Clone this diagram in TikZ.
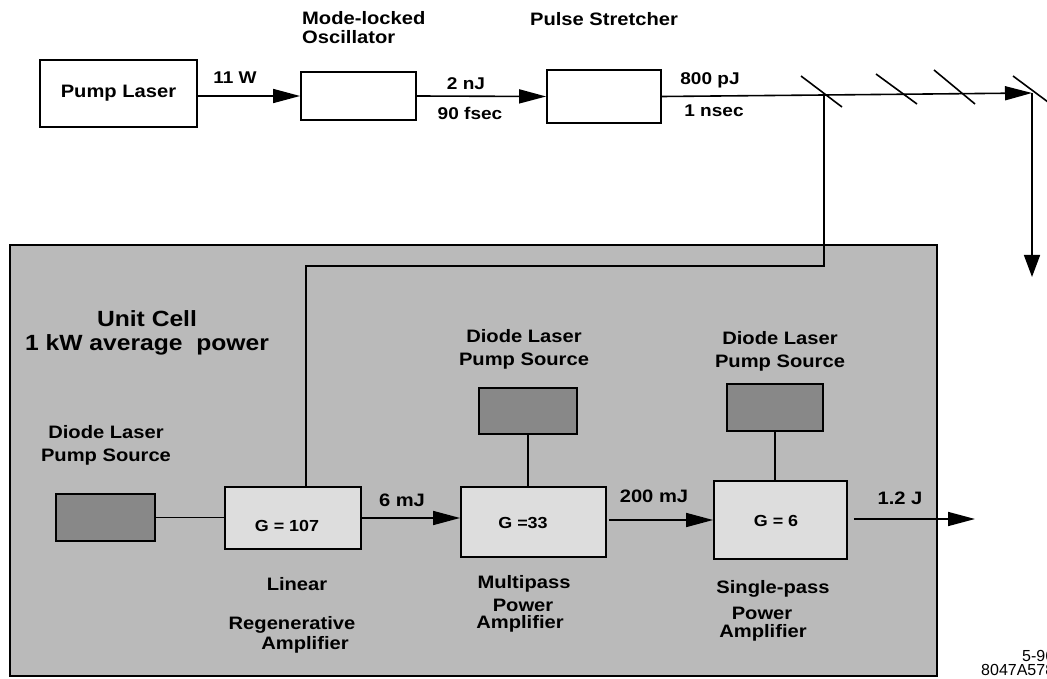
\documentclass[tikz,border=0pt]{standalone}
\usepackage{fontspec}
\setmainfont{Liberation Sans}
\newfontfamily\hb{Liberation Sans}[FakeStretch=1.12]
\usetikzlibrary{arrows.meta}
\definecolor{cellgray}{HTML}{BABABA}
\definecolor{diodegray}{HTML}{888888}
\definecolor{ampgray}{HTML}{DDDDDD}
\begin{document}
\begin{tikzpicture}[x=1pt,y=-1pt,
  box/.style={draw, line width=1.8pt, inner sep=0pt},
  diode/.style={box, fill=diodegray},
  amp/.style={box, fill=ampgray},
  conn/.style={line width=1.6pt},
  arr/.style={conn, -{Triangle[length=27pt,width=14pt]}},
  arrdown/.style={conn, -{Triangle[length=22pt,width=16pt]}},
  mirror/.style={line width=1.6pt},
  lbl/.style={inner sep=0pt, align=center, font=\hb\bfseries\fontsize{18}{21}\selectfont},
  tlbl/.style={inner sep=0pt, align=center, font=\hb\bfseries\fontsize{17}{20}\selectfont},
  glbl/.style={inner sep=0pt, align=center, font=\hb\bfseries\fontsize{16}{19}\selectfont},
  biglbl/.style={inner sep=0pt, align=center, font=\hb\bfseries\fontsize{22}{25}\selectfont},
  code/.style={inner sep=0pt, align=right, font=\fontsize{16}{17}\selectfont}
]
\useasboundingbox (0,0) rectangle (1047,679);

% unit cell background
\draw[line width=1.8pt, fill=cellgray] (10,245) rectangle (937,676);

% top chain
\node[box, minimum width=157pt, minimum height=67pt, lbl] (pl) at (118.5,93.5) {Pump Laser};
\node[box, minimum width=115pt, minimum height=48pt] (mlo) at (358.5,96) {};
\node[box, minimum width=114pt, minimum height=53pt] (ps) at (604,96.5) {};

\node[lbl, anchor=west, align=left] (mlotxt) at (302,28) {Mode-locked\\[-2pt]Oscillator};
\node[lbl] (pstxt) at (604,19) {Pulse Stretcher};

\draw[arr] (pl.east |- mlo.west) -- (mlo.west);
\node[tlbl] (w11) at (235,78) {11 W};
\draw[arr] (mlo.east) -- (ps.west);
\node[tlbl] (nj2) at (466,84) {2 nJ};
\node[tlbl] (fs90) at (470,113) {90 fsec};

\coordinate (m1) at (824,95);
\coordinate (m4) at (1032,93);
\coordinate (down) at (1032,277);
\draw[arr] (ps.east) -- (m1) -- (m4);
\draw[arrdown] (m4) -- (down);
\node[tlbl] (pj800) at (710,80) {800 pJ};
\node[tlbl] (ns1) at (714,111) {1 nsec};

% mirrors
\draw[mirror] (801,76) -- (842,107);
\draw[mirror] (876,74) -- (917,104);
\draw[mirror] (934,70) -- (975,104);
\draw[mirror] (1013,76) -- (1052,105);

% unit cell contents
\node[biglbl] (uc) at (147,333) {Unit Cell\\[-1pt]1 kW average\ \ power};

\node[diode, minimum width=99pt, minimum height=47pt] (dl) at (105.5,517.5) {};
\node[diode, minimum width=98pt, minimum height=46pt] (dm) at (528,411) {};
\node[diode, minimum width=96pt, minimum height=47pt] (dr) at (775,407.5) {};

\node[amp, minimum width=136pt, minimum height=62pt] (g107) at (293,518) {};
\node[amp, minimum width=145pt, minimum height=70pt] (g33) at (533.5,522) {};
\node[amp, minimum width=133pt, minimum height=78pt] (g6) at (780.5,520) {};

\node[glbl] (g107t) at (287,526) {G = 107};
\node[glbl] (g33t) at (523,523) {G =33};
\node[glbl] (g6t) at (776,521) {G = 6};

\node[lbl] (dltxt) at (106,445) {Diode Laser\\[2pt]Pump Source};
\node[lbl] (dmtxt) at (524,349) {Diode Laser\\[2pt]Pump Source};
\node[lbl] (drtxt) at (780,351) {Diode Laser\\[2pt]Pump Source};

% feed from beam splitter into unit cell
\coordinate (c1) at (824,266);
\coordinate (c2) at (306,266);
\draw[conn] (m1) -- (c1) -- (c2) -- (c2 |- g107.north);

% pump connections
\draw[conn] (dl.east) -- (g107.west |- dl.east);
\draw[conn] (dm.south) -- (dm.south |- g33.north);
\draw[conn] (dr.south) -- (dr.south |- g6.north);

% amplifier chain
\draw[arr] (g107.east) -- (g33.west |- g107.east);
\node[lbl] (mj6) at (402,500) {6 mJ};
\draw[arr, shorten <=2pt] (g33.east |- g6.west) -- (g6.west);
\node[lbl] (mj200) at (654,496) {200 mJ};
\coordinate (o2) at (975,519);
\draw[arr, shorten <=6pt] (g6.east |- o2) -- (o2);
\node[lbl] (j12) at (900,498) {1.2 J};

% amplifier names
\node[lbl] (lin) at (297,584) {Linear};
\node[lbl] (regen) at (292,625) {Regenerative};
\node[lbl] (regamp) at (305,645) {Amplifier};
\node[lbl] (mp) at (524,584) {Multipass};
\node[lbl] (mppow) at (523,605) {Power};
\node[lbl] (mpamp) at (520,624) {Amplifier};
\node[lbl] (sp) at (773,589) {Single-pass};
\node[lbl] (sppow) at (762,613) {Power};
\node[lbl] (spamp) at (763,633) {Amplifier};

% figure code (cut by the right edge, as in the reference)
\node[code, anchor=north west] (code1) at (1022,650) {5-96};
\node[code, anchor=north west] (code2) at (981,664) {8047A578};
\end{tikzpicture}
\end{document}
